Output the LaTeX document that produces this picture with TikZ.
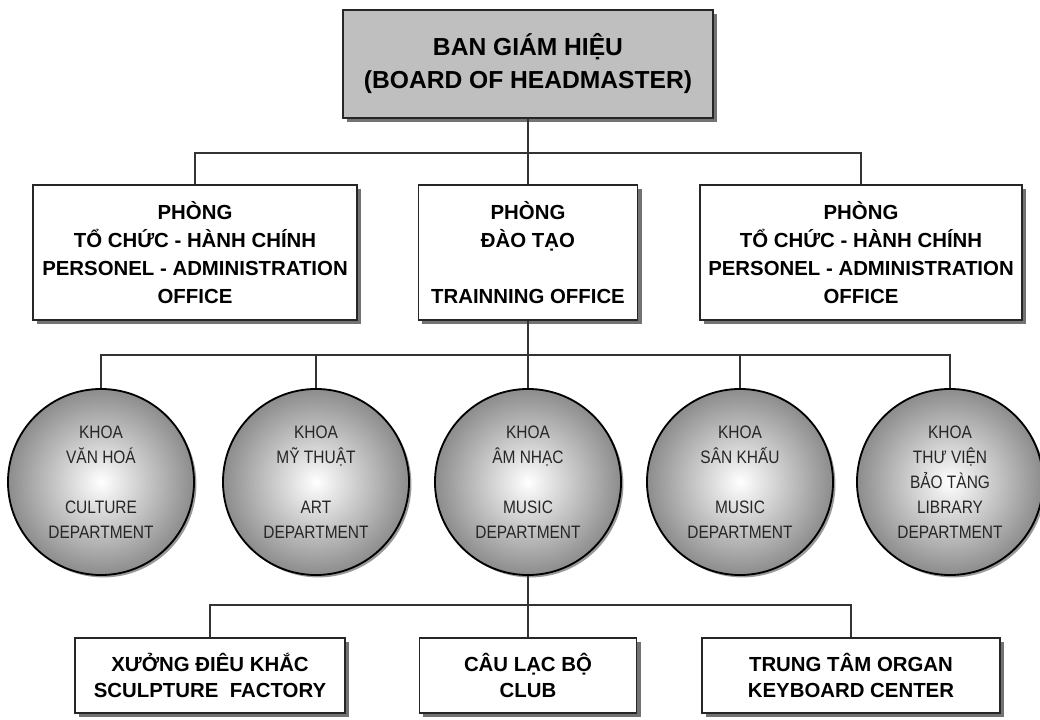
\documentclass[tikz,border=0pt]{standalone}
\usepackage{fontspec}
\setmainfont{Liberation Sans}
\newfontfamily\narrowfont{Liberation Sans}[FakeStretch=0.86]
\usetikzlibrary{shadows}

\begin{document}
\begin{tikzpicture}[x=0.025cm, y=-0.025cm,
        head_style/.style={rectangle, draw=black!85, line width=0.9pt, fill=black!25, align=center,
            minimum width=9.25cm, minimum height=2.7cm, font=\fontsize{17.5}{23.5}\selectfont\bfseries,
            drop shadow={shadow xshift=0.1cm, shadow yshift=-0.1cm, fill=black!55, opacity=1}},
        office_style/.style={rectangle, draw=black!85, line width=0.9pt, fill=white, align=center,
            minimum height=3.375cm, font=\fontsize{14.5}{20}\selectfont\bfseries,
            drop shadow={shadow xshift=0.1cm, shadow yshift=-0.1cm, fill=black!55, opacity=1}},
        unit_style/.style={office_style, minimum height=1.875cm, font=\fontsize{14.5}{19}\selectfont\bfseries},
        dept_style/.style={circle, draw=black, line width=1.3pt, inner color=white, outer color=black!45,
            minimum size=4.65cm, inner sep=0pt, align=center, text=black!85,
            font=\narrowfont\fontsize{12.8}{17.8}\selectfont,
            drop shadow={shadow xshift=0.06cm, shadow yshift=-0.06cm, fill=black!40, opacity=1}},
        edge_style/.style={draw=black!80, line width=0.8pt}]

        \useasboundingbox (0,0) rectangle (1040,720);

        \node [head_style](head) at (528,64) {BAN GIÁM HIỆU\\(BOARD OF HEADMASTER)};

        \node [office_style, minimum width=8.1cm](off1) at (195,252.5) {PHÒNG\\TỔ CHỨC - HÀNH CHÍNH\\PERSONEL - ADMINISTRATION\\OFFICE};

        \node [office_style, minimum width=5.475cm](off2) at (528,252.5) {PHÒNG\\ĐÀO TẠO\\[20pt]TRAINNING OFFICE};

        \node [office_style, minimum width=8.05cm](off3) at (861,252.5) {PHÒNG\\TỔ CHỨC - HÀNH CHÍNH\\PERSONEL - ADMINISTRATION\\OFFICE};

        \node [dept_style](dep1) at (101,482) {KHOA\\VĂN HOÁ\\[17.8pt]CULTURE\\DEPARTMENT};

        \node [dept_style](dep2) at (316,482) {KHOA\\MỸ THUẬT\\[17.8pt]ART\\DEPARTMENT};

        \node [dept_style](dep3) at (528,482) {KHOA\\ÂM NHẠC\\[17.8pt]MUSIC\\DEPARTMENT};

        \node [dept_style](dep4) at (740,482) {KHOA\\SÂN KHẤU\\[17.8pt]MUSIC\\DEPARTMENT};

        \node [dept_style](dep5) at (950,482) {KHOA\\THƯ VIỆN\\BẢO TÀNG\\LIBRARY\\DEPARTMENT};

        \node [unit_style, minimum width=6.75cm](unit1) at (210,675.5) {XƯỞNG ĐIÊU KHẮC\\SCULPTURE\ \ FACTORY};

        \node [unit_style, minimum width=5.425cm](unit2) at (528,675.5) {CÂU LẠC BỘ\\CLUB};

        \node [unit_style, minimum width=7.45cm](unit3) at (851,675.5) {TRUNG TÂM ORGAN\\KEYBOARD CENTER};

        % tree lines
        \coordinate (bus1) at (528,153);
        \coordinate (bus2) at (528,355);
        \coordinate (bus3) at (528,605);

        \draw [edge_style] (head) -- (bus1);
        \draw [edge_style] (bus1) -| (off1);
        \draw [edge_style] (bus1) -- (off2);
        \draw [edge_style] (bus1) -| (off3);

        \draw [edge_style] (off2) -- (bus2);
        \draw [edge_style] (bus2) -| (dep1);
        \draw [edge_style] (bus2) -| (dep2);
        \draw [edge_style] (bus2) -- (dep3);
        \draw [edge_style] (bus2) -| (dep4);
        \draw [edge_style] (bus2) -| (dep5);

        \draw [edge_style] (dep3) -- (bus3);
        \draw [edge_style] (bus3) -| (unit1);
        \draw [edge_style] (bus3) -- (unit2);
        \draw [edge_style] (bus3) -| (unit3);

        \end{tikzpicture}
\end{document}
